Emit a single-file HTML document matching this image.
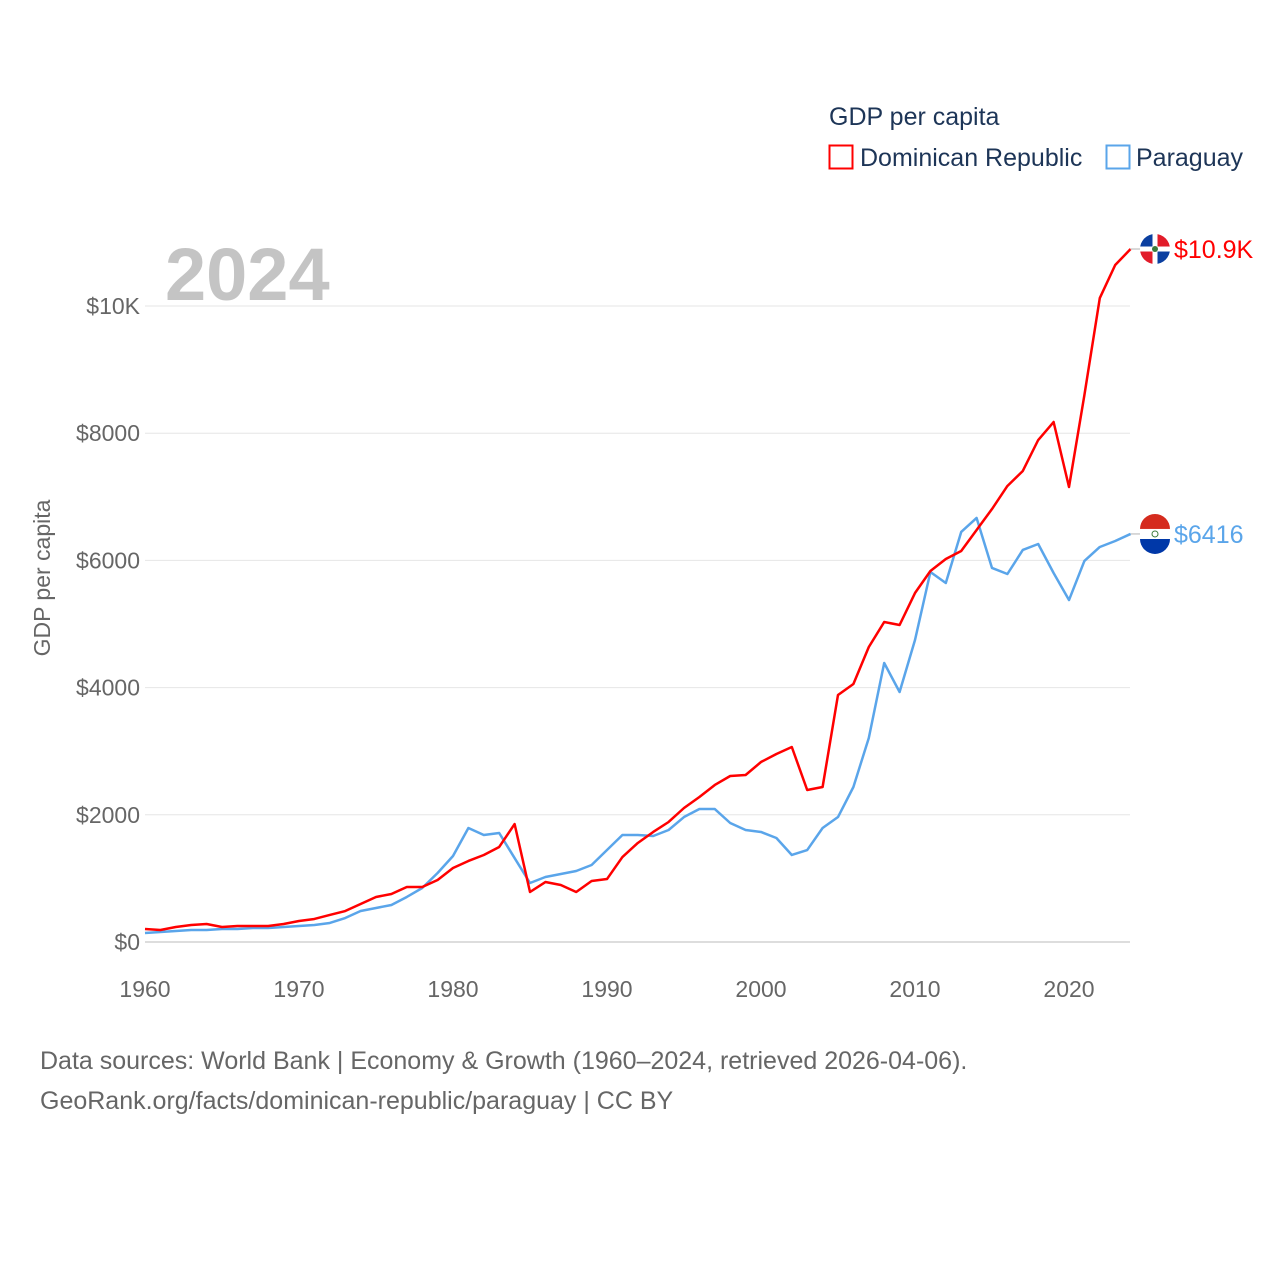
<!DOCTYPE html>
<html><head><meta charset="utf-8"><style>
body{margin:0;background:#fff;}
svg{display:block;font-family:"Liberation Sans",sans-serif;}
</style></head><body>
<svg id="chart" width="1280" height="1280" viewBox="0 0 1280 1280">
<rect width="1280" height="1280" fill="#fff"/>
<text x="829" y="125" font-size="25" fill="#1d3557">GDP per capita</text>
<g>
<rect x="829.5" y="145.5" width="23" height="23" fill="none" stroke="#ff0000" stroke-width="2"/>
<text x="860" y="166" font-size="25" fill="#1d3557">Dominican Republic</text></g>
<g>
<rect x="1106.5" y="145.5" width="23" height="23" fill="none" stroke="#5aa5ea" stroke-width="2"/>
<text x="1136" y="166" font-size="25" fill="#1d3557">Paraguay</text></g>
<text x="165" y="300" font-size="74" font-weight="bold" fill="#c4c4c4">2024</text>
<text transform="translate(50,578) rotate(-90)" text-anchor="middle" font-size="23" fill="#666">GDP per capita</text>
<g id="grid"></g><g id="lines"></g><g id="ends"></g>
<text x="40" y="1069" font-size="25" fill="#666">Data sources: World Bank | Economy &amp; Growth (1960–2024, retrieved 2026-04-06).</text>
<text x="40" y="1109" font-size="25" fill="#666">GeoRank.org/facts/dominican-republic/paraguay | CC BY</text>
</svg>
<script>
const years=[];for(let y=1960;y<=2024;y++)years.push(y);
const drValues=[204,189,236,267,283,236,252,252,252,283,330,362,425,487,597,708,755,865,865,975,1163,1274,1368,1494,1855,786,943,896,786,959,990,1336,1557,1730,1887,2107,2280,2469,2610,2626,2830,2956,3066,2390,2437,3884,4057,4638,5031,4984,5487,5833,6022,6148,6478,6808,7170,7406,7893,8176,7154,8600,10125,10645,10896];
const pyValues=[142,157,173,189,189,204,204,220,220,236,252,267,299,377,487,535,582,708,849,1085,1352,1792,1682,1714,1320,928,1022,1069,1116,1211,1446,1682,1682,1667,1761,1965,2091,2091,1871,1761,1730,1635,1368,1446,1792,1965,2437,3208,4387,3931,4748,5818,5645,6447,6667,5881,5786,6164,6258,5802,5377,5991,6211,6305,6416];
const yTicks=[0,2000,4000,6000,8000,10000];
const yTickLabels=["$0","$2000","$4000","$6000","$8000","$10K"];
const xTicks=[1960,1970,1980,1990,2000,2010,2020];
const NS="http://www.w3.org/2000/svg";
const xS=v=>145+(v-1960)*15.4;
const yS=v=>942-v*0.0636;
function mk(tag,attrs,parent){const e=document.createElementNS(NS,tag);for(const k in attrs)e.setAttribute(k,attrs[k]);parent.appendChild(e);return e;}
const grid=document.getElementById('grid');
yTicks.forEach((t,i)=>{
  const l=mk('line',{x1:145,x2:1130,y1:yS(t),y2:yS(t),stroke:t===0?'#ddd':'#e6e6e6','stroke-width':t===0?2:1},grid);
  
  
  const tx=mk('text',{x:140,y:yS(t)+8,'text-anchor':'end','font-size':23,fill:'#666'},grid);
  tx.textContent=yTickLabels[i];
  
  
});
xTicks.forEach(t=>{
  const tx=mk('text',{x:xS(t),y:997,'text-anchor':'middle','font-size':23,fill:'#666'},grid);
  tx.textContent=t;
  
  
});
const lines=document.getElementById('lines');
function drawLine(vals,color,name){
  const p=mk('polyline',{points:vals.map((v,i)=>xS(years[i])+','+yS(v)).join(' '),fill:'none',stroke:color,'stroke-width':2.5,'stroke-linejoin':'round'},lines);
  
  
}
drawLine(pyValues,'#5aa5ea','line-paraguay');
drawLine(drValues,'#ff0000','line-dominican-republic');
const ends=document.getElementById('ends');
function endLabel(v,color,label,name,flag){
  const y=yS(v),x0=xS(2024);
  mk('line',{x1:x0,x2:1140,y1:y,y2:y,stroke:'#ccc','stroke-width':1.5},ends);
  const g=mk('g',{},ends);
  
  
  const cx=1155;
  if(flag==='dr'){
    mk('circle',{cx:cx,cy:y,r:15,fill:'#fff'},g);
    mk('path',{d:`M${cx} ${y} L${cx} ${y-15} A15 15 0 0 0 ${cx-15} ${y} Z`,fill:'#0b3fa0'},g);
    mk('path',{d:`M${cx} ${y} L${cx+15} ${y} A15 15 0 0 0 ${cx} ${y-15} Z`,fill:'#e21c2a'},g);
    mk('path',{d:`M${cx} ${y} L${cx-15} ${y} A15 15 0 0 0 ${cx} ${y+15} Z`,fill:'#e21c2a'},g);
    mk('path',{d:`M${cx} ${y} L${cx} ${y+15} A15 15 0 0 0 ${cx+15} ${y} Z`,fill:'#0b3fa0'},g);
    mk('rect',{x:cx-15,y:y-2.5,width:30,height:5,fill:'#fff'},g);
    mk('rect',{x:cx-2.5,y:y-15,width:5,height:30,fill:'#fff'},g);
    mk('circle',{cx:cx,cy:y,r:3,fill:'#3a7a3a'},g);
  } else {
    mk('path',{d:`M${cx-15} ${y-5} A15 15 0 0 1 ${cx+15} ${y-5} Z`,fill:'#d52b1e'},g);
    mk('rect',{x:cx-15,y:y-5,width:30,height:10,fill:'#fff'},g);
    mk('path',{d:`M${cx-15} ${y+5} A15 15 0 0 0 ${cx+15} ${y+5} Z`,fill:'#0038a8'},g);
    mk('circle',{cx:cx,cy:y,r:3,fill:'none',stroke:'#3a7a3a','stroke-width':1},g);
  }
  const t=mk('text',{x:1174,y:y+9,'font-size':25,fill:color},ends);
  t.textContent=label;
  
  
}
endLabel(drValues[drValues.length-1],'#ff0000','$10.9K','dominican-republic','dr');
endLabel(pyValues[pyValues.length-1],'#5aa5ea','$6416','paraguay','py');
</script>
</body></html>
